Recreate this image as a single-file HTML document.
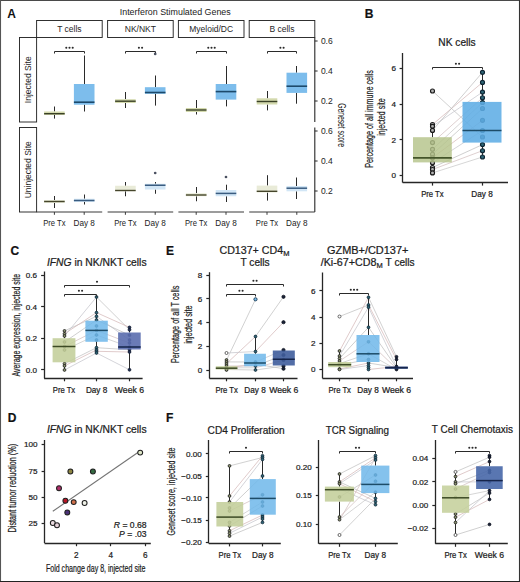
<!DOCTYPE html><html><head><meta charset="utf-8"><style>html,body{margin:0;padding:0;background:#fff;}svg{display:block;font-family:"Liberation Sans",sans-serif;}text{stroke:#1c1c1c;stroke-width:0.22px;}.pa text{stroke:none;}</style></head><body>
<svg width="520" height="582" viewBox="0 0 520 582">
<rect x="0" y="0" width="520" height="582" fill="#fff" stroke="none" stroke-width="1"/>
<g class="pa">
<text x="7.2" y="17.6" font-size="12" text-anchor="start" font-weight="bold" fill="#111">A</text>
<text x="175.25" y="15.4" font-size="8.9" text-anchor="middle" fill="#222" textLength="111" lengthAdjust="spacingAndGlyphs">Interferon Stimulated Genes</text>
<rect x="36.6" y="20.5" width="65.6" height="17" fill="#fff" stroke="#262626" stroke-width="0.95"/>
<text x="69.4" y="32.1" font-size="8.5" text-anchor="middle" fill="#262626">T cells</text>
<rect x="107.6" y="20.5" width="65.6" height="17" fill="#fff" stroke="#262626" stroke-width="0.95"/>
<text x="140.39999999999998" y="32.1" font-size="8.5" text-anchor="middle" fill="#262626">NK/NKT</text>
<rect x="178.4" y="20.5" width="65.6" height="17" fill="#fff" stroke="#262626" stroke-width="0.95"/>
<text x="211.2" y="32.1" font-size="8.5" text-anchor="middle" fill="#262626">Myeloid/DC</text>
<rect x="249.2" y="20.5" width="65.6" height="17" fill="#fff" stroke="#262626" stroke-width="0.95"/>
<text x="282.0" y="32.1" font-size="8.5" text-anchor="middle" fill="#262626">B cells</text>
<rect x="19.5" y="37.5" width="17.1" height="84.5" fill="#fff" stroke="#262626" stroke-width="0.95"/>
<text x="31.2" y="79.75" font-size="8.5" text-anchor="middle" fill="#262626" transform="rotate(-90 31.2 79.75)">Injected Site</text>
<rect x="19.5" y="127.5" width="17.1" height="84.5" fill="#fff" stroke="#262626" stroke-width="0.95"/>
<text x="31.2" y="169.75" font-size="8.5" text-anchor="middle" fill="#262626" transform="rotate(-90 31.2 169.75)">Uninjected Site</text>
<line x1="314.8" y1="37.5" x2="314.8" y2="122" stroke="#262626" stroke-width="1.1"/>
<line x1="314.8" y1="41" x2="317.6" y2="41" stroke="#262626" stroke-width="1"/>
<text x="320.9" y="43.9" font-size="8.5" text-anchor="start" fill="#1c1c1c">0.6</text>
<line x1="314.8" y1="71" x2="317.6" y2="71" stroke="#262626" stroke-width="1"/>
<text x="320.9" y="73.9" font-size="8.5" text-anchor="start" fill="#1c1c1c">0.4</text>
<line x1="314.8" y1="101" x2="317.6" y2="101" stroke="#262626" stroke-width="1"/>
<text x="320.9" y="103.9" font-size="8.5" text-anchor="start" fill="#1c1c1c">0.2</text>
<line x1="314.8" y1="127.5" x2="314.8" y2="212" stroke="#262626" stroke-width="1.1"/>
<line x1="314.8" y1="131" x2="317.6" y2="131" stroke="#262626" stroke-width="1"/>
<text x="320.9" y="133.9" font-size="8.5" text-anchor="start" fill="#1c1c1c">0.6</text>
<line x1="314.8" y1="161" x2="317.6" y2="161" stroke="#262626" stroke-width="1"/>
<text x="320.9" y="163.9" font-size="8.5" text-anchor="start" fill="#1c1c1c">0.4</text>
<line x1="314.8" y1="191" x2="317.6" y2="191" stroke="#262626" stroke-width="1"/>
<text x="320.9" y="193.9" font-size="8.5" text-anchor="start" fill="#1c1c1c">0.2</text>
<text x="338.4" y="125.1" font-size="10" text-anchor="middle" fill="#1c1c1c" transform="rotate(90 338.4 125.1)" textLength="43.9" lengthAdjust="spacingAndGlyphs">Geneset score</text>
<line x1="54.5" y1="106.5" x2="54.5" y2="111.5" stroke="#2a2a2a" stroke-width="1"/>
<line x1="54.5" y1="115" x2="54.5" y2="118.6" stroke="#2a2a2a" stroke-width="1"/>
<rect x="44.10000000000001" y="111.5" width="20.6" height="3.5" fill="#d3d9ad" stroke="none" stroke-width="1" fill-opacity="1"/>
<line x1="44.10000000000001" y1="113.7" x2="64.7" y2="113.7" stroke="#3a4127" stroke-width="1.4"/>
<line x1="84.5" y1="55.5" x2="84.5" y2="84" stroke="#2a2a2a" stroke-width="1"/>
<line x1="84.5" y1="104.7" x2="84.5" y2="111.5" stroke="#2a2a2a" stroke-width="1"/>
<rect x="73.9" y="84" width="20.6" height="20.700000000000003" fill="#7dbdec" stroke="none" stroke-width="1" fill-opacity="1"/>
<line x1="73.9" y1="102.2" x2="94.5" y2="102.2" stroke="#1d4a6c" stroke-width="1.6"/>
<path d="M54.5 53.5 V51.5 H84.5 V53.5" fill="none" stroke="#2a2a2a" stroke-width="1"/>
<circle cx="66.30" cy="47.80" r="1.05" fill="#2a2a2a"/>
<circle cx="69.50" cy="47.80" r="1.05" fill="#2a2a2a"/>
<circle cx="72.70" cy="47.80" r="1.05" fill="#2a2a2a"/>
<line x1="54.5" y1="196" x2="54.5" y2="200" stroke="#2a2a2a" stroke-width="1"/>
<line x1="54.5" y1="203" x2="54.5" y2="208" stroke="#2a2a2a" stroke-width="1"/>
<rect x="44.10000000000001" y="200" width="20.6" height="3" fill="#e9ebd8" stroke="none" stroke-width="1" fill-opacity="1"/>
<line x1="44.10000000000001" y1="201.5" x2="64.7" y2="201.5" stroke="#45452c" stroke-width="1.4"/>
<line x1="84.5" y1="194.5" x2="84.5" y2="198.75" stroke="#2a2a2a" stroke-width="1"/>
<line x1="84.5" y1="202" x2="84.5" y2="204.5" stroke="#2a2a2a" stroke-width="1"/>
<rect x="73.9" y="198.75" width="20.6" height="3.25" fill="#d2e6f6" stroke="none" stroke-width="1" fill-opacity="1"/>
<line x1="73.9" y1="200.5" x2="94.5" y2="200.5" stroke="#3a5c80" stroke-width="1.5"/>
<line x1="36.6" y1="212" x2="102.19999999999999" y2="212" stroke="#3a3a3a" stroke-width="1.2"/>
<line x1="54.400000000000006" y1="212" x2="54.400000000000006" y2="214.8" stroke="#3a3a3a" stroke-width="1"/>
<text x="54.400000000000006" y="225.6" font-size="8.2" text-anchor="middle" fill="#1c1c1c" textLength="22.4" lengthAdjust="spacingAndGlyphs">Pre Tx</text>
<line x1="84.2" y1="212" x2="84.2" y2="214.8" stroke="#3a3a3a" stroke-width="1"/>
<text x="84.2" y="225.6" font-size="8.2" text-anchor="middle" fill="#1c1c1c" textLength="21.4" lengthAdjust="spacingAndGlyphs">Day 8</text>
<line x1="125.5" y1="92" x2="125.5" y2="99.2" stroke="#2a2a2a" stroke-width="1"/>
<line x1="125.5" y1="103" x2="125.5" y2="108" stroke="#2a2a2a" stroke-width="1"/>
<rect x="115.1" y="99.2" width="20.6" height="3.799999999999997" fill="#d3d9ad" stroke="none" stroke-width="1" fill-opacity="1"/>
<line x1="115.1" y1="101.2" x2="135.7" y2="101.2" stroke="#3a4127" stroke-width="1.4"/>
<line x1="155.5" y1="75.5" x2="155.5" y2="87.2" stroke="#2a2a2a" stroke-width="1"/>
<line x1="155.5" y1="93.8" x2="155.5" y2="105.6" stroke="#2a2a2a" stroke-width="1"/>
<rect x="144.89999999999998" y="87.2" width="20.6" height="6.599999999999994" fill="#7dbdec" stroke="none" stroke-width="1" fill-opacity="1"/>
<line x1="144.89999999999998" y1="92.5" x2="165.5" y2="92.5" stroke="#1d4a6c" stroke-width="1.6"/>
<path d="M125.5 53.5 V51.5 H155.5 V53.5" fill="none" stroke="#2a2a2a" stroke-width="1"/>
<circle cx="138.90" cy="47.80" r="1.05" fill="#2a2a2a"/>
<circle cx="142.10" cy="47.80" r="1.05" fill="#2a2a2a"/>
<circle cx="155.2" cy="53.9" r="1.35" fill="#4a5060" stroke="none" stroke-width="0"/>
<line x1="125.5" y1="182" x2="125.5" y2="185.75" stroke="#2a2a2a" stroke-width="1"/>
<line x1="125.5" y1="191.25" x2="125.5" y2="196.25" stroke="#2a2a2a" stroke-width="1"/>
<rect x="115.1" y="185.75" width="20.6" height="5.5" fill="#e9ebd8" stroke="none" stroke-width="1" fill-opacity="1"/>
<line x1="115.1" y1="190.5" x2="135.7" y2="190.5" stroke="#45452c" stroke-width="1.4"/>
<line x1="155.5" y1="182" x2="155.5" y2="183.75" stroke="#2a2a2a" stroke-width="1"/>
<line x1="155.5" y1="189.5" x2="155.5" y2="193.75" stroke="#2a2a2a" stroke-width="1"/>
<rect x="144.89999999999998" y="183.75" width="20.6" height="5.75" fill="#d2e6f6" stroke="none" stroke-width="1" fill-opacity="1"/>
<line x1="144.89999999999998" y1="185.25" x2="165.5" y2="185.25" stroke="#3a5c80" stroke-width="1.5"/>
<circle cx="155.2" cy="173" r="1.35" fill="#4a5060" stroke="none" stroke-width="0"/>
<line x1="107.6" y1="212" x2="173.2" y2="212" stroke="#3a3a3a" stroke-width="1.2"/>
<line x1="125.39999999999999" y1="212" x2="125.39999999999999" y2="214.8" stroke="#3a3a3a" stroke-width="1"/>
<text x="125.39999999999999" y="225.6" font-size="8.2" text-anchor="middle" fill="#1c1c1c" textLength="22.4" lengthAdjust="spacingAndGlyphs">Pre Tx</text>
<line x1="155.2" y1="212" x2="155.2" y2="214.8" stroke="#3a3a3a" stroke-width="1"/>
<text x="155.2" y="225.6" font-size="8.2" text-anchor="middle" fill="#1c1c1c" textLength="21.4" lengthAdjust="spacingAndGlyphs">Day 8</text>
<line x1="196.5" y1="100" x2="196.5" y2="108" stroke="#2a2a2a" stroke-width="1"/>
<line x1="196.5" y1="112" x2="196.5" y2="114.5" stroke="#2a2a2a" stroke-width="1"/>
<rect x="185.9" y="108" width="20.6" height="4" fill="#d3d9ad" stroke="none" stroke-width="1" fill-opacity="1"/>
<line x1="185.9" y1="110" x2="206.50000000000003" y2="110" stroke="#3a4127" stroke-width="1.4"/>
<line x1="226.5" y1="66" x2="226.5" y2="84" stroke="#2a2a2a" stroke-width="1"/>
<line x1="226.5" y1="99.6" x2="226.5" y2="106.4" stroke="#2a2a2a" stroke-width="1"/>
<rect x="215.7" y="84" width="20.6" height="15.599999999999994" fill="#7dbdec" stroke="none" stroke-width="1" fill-opacity="1"/>
<line x1="215.7" y1="91.6" x2="236.3" y2="91.6" stroke="#1d4a6c" stroke-width="1.6"/>
<path d="M196.5 53.5 V51.5 H226.5 V53.5" fill="none" stroke="#2a2a2a" stroke-width="1"/>
<circle cx="208.30" cy="47.80" r="1.05" fill="#2a2a2a"/>
<circle cx="211.50" cy="47.80" r="1.05" fill="#2a2a2a"/>
<circle cx="214.70" cy="47.80" r="1.05" fill="#2a2a2a"/>
<line x1="196.5" y1="187" x2="196.5" y2="193.25" stroke="#2a2a2a" stroke-width="1"/>
<line x1="196.5" y1="196.25" x2="196.5" y2="201.25" stroke="#2a2a2a" stroke-width="1"/>
<rect x="185.9" y="193.25" width="20.6" height="3.0" fill="#e9ebd8" stroke="none" stroke-width="1" fill-opacity="1"/>
<line x1="185.9" y1="195" x2="206.50000000000003" y2="195" stroke="#45452c" stroke-width="1.4"/>
<line x1="226.5" y1="184.7" x2="226.5" y2="190" stroke="#2a2a2a" stroke-width="1"/>
<line x1="226.5" y1="196.25" x2="226.5" y2="202" stroke="#2a2a2a" stroke-width="1"/>
<rect x="215.7" y="190" width="20.6" height="6.25" fill="#d2e6f6" stroke="none" stroke-width="1" fill-opacity="1"/>
<line x1="215.7" y1="193.4" x2="236.3" y2="193.4" stroke="#3a5c80" stroke-width="1.5"/>
<circle cx="226.0" cy="177" r="1.35" fill="#4a5060" stroke="none" stroke-width="0"/>
<line x1="178.4" y1="212" x2="244.0" y2="212" stroke="#3a3a3a" stroke-width="1.2"/>
<line x1="196.20000000000002" y1="212" x2="196.20000000000002" y2="214.8" stroke="#3a3a3a" stroke-width="1"/>
<text x="196.20000000000002" y="225.6" font-size="8.2" text-anchor="middle" fill="#1c1c1c" textLength="22.4" lengthAdjust="spacingAndGlyphs">Pre Tx</text>
<line x1="226.0" y1="212" x2="226.0" y2="214.8" stroke="#3a3a3a" stroke-width="1"/>
<text x="226.0" y="225.6" font-size="8.2" text-anchor="middle" fill="#1c1c1c" textLength="21.4" lengthAdjust="spacingAndGlyphs">Day 8</text>
<line x1="267.5" y1="91" x2="267.5" y2="98.3" stroke="#2a2a2a" stroke-width="1"/>
<line x1="267.5" y1="104.5" x2="267.5" y2="110.4" stroke="#2a2a2a" stroke-width="1"/>
<rect x="256.7" y="98.3" width="20.6" height="6.200000000000003" fill="#d3d9ad" stroke="none" stroke-width="1" fill-opacity="1"/>
<line x1="256.7" y1="101.5" x2="277.3" y2="101.5" stroke="#3a4127" stroke-width="1.4"/>
<line x1="296.5" y1="66" x2="296.5" y2="72.7" stroke="#2a2a2a" stroke-width="1"/>
<line x1="296.5" y1="92.9" x2="296.5" y2="103.7" stroke="#2a2a2a" stroke-width="1"/>
<rect x="286.5" y="72.7" width="20.6" height="20.200000000000003" fill="#7dbdec" stroke="none" stroke-width="1" fill-opacity="1"/>
<line x1="286.5" y1="86.2" x2="307.1" y2="86.2" stroke="#1d4a6c" stroke-width="1.6"/>
<path d="M267.5 53.5 V51.5 H296.5 V53.5" fill="none" stroke="#2a2a2a" stroke-width="1"/>
<circle cx="280.40" cy="47.80" r="1.05" fill="#2a2a2a"/>
<circle cx="283.60" cy="47.80" r="1.05" fill="#2a2a2a"/>
<line x1="267.5" y1="175.2" x2="267.5" y2="185.6" stroke="#2a2a2a" stroke-width="1"/>
<line x1="267.5" y1="192.5" x2="267.5" y2="200.6" stroke="#2a2a2a" stroke-width="1"/>
<rect x="256.7" y="185.6" width="20.6" height="6.900000000000006" fill="#e9ebd8" stroke="none" stroke-width="1" fill-opacity="1"/>
<line x1="256.7" y1="191.3" x2="277.3" y2="191.3" stroke="#45452c" stroke-width="1.4"/>
<line x1="296.5" y1="177.5" x2="296.5" y2="186" stroke="#2a2a2a" stroke-width="1"/>
<line x1="296.5" y1="191.3" x2="296.5" y2="199" stroke="#2a2a2a" stroke-width="1"/>
<rect x="286.5" y="186" width="20.6" height="5.300000000000011" fill="#d2e6f6" stroke="none" stroke-width="1" fill-opacity="1"/>
<line x1="286.5" y1="188.2" x2="307.1" y2="188.2" stroke="#3a5c80" stroke-width="1.5"/>
<line x1="249.2" y1="212" x2="314.79999999999995" y2="212" stroke="#3a3a3a" stroke-width="1.2"/>
<line x1="267.0" y1="212" x2="267.0" y2="214.8" stroke="#3a3a3a" stroke-width="1"/>
<text x="267.0" y="225.6" font-size="8.2" text-anchor="middle" fill="#1c1c1c" textLength="22.4" lengthAdjust="spacingAndGlyphs">Pre Tx</text>
<line x1="296.8" y1="212" x2="296.8" y2="214.8" stroke="#3a3a3a" stroke-width="1"/>
<text x="296.8" y="225.6" font-size="8.2" text-anchor="middle" fill="#1c1c1c" textLength="21.4" lengthAdjust="spacingAndGlyphs">Day 8</text>
</g>
<text x="364.8" y="17.8" font-size="12" text-anchor="start" font-weight="bold" fill="#111">B</text>
<text x="457" y="45.9" font-size="10.1" text-anchor="middle" fill="#222" textLength="37.4" lengthAdjust="spacingAndGlyphs">NK cells</text>
<line x1="402.5" y1="53" x2="402.5" y2="182.6" stroke="#262626" stroke-width="1.3"/>
<line x1="399.6" y1="68.5" x2="402.6" y2="68.5" stroke="#262626" stroke-width="1.2"/>
<text x="396.1" y="71.30000000000001" font-size="8.1" text-anchor="end" fill="#1c1c1c">6</text>
<line x1="399.6" y1="104.5" x2="402.6" y2="104.5" stroke="#262626" stroke-width="1.2"/>
<text x="396.1" y="107.10000000000001" font-size="8.1" text-anchor="end" fill="#1c1c1c">4</text>
<line x1="399.6" y1="139.5" x2="402.6" y2="139.5" stroke="#262626" stroke-width="1.2"/>
<text x="396.1" y="142.8" font-size="8.1" text-anchor="end" fill="#1c1c1c">2</text>
<line x1="399.6" y1="175.5" x2="402.6" y2="175.5" stroke="#262626" stroke-width="1.2"/>
<text x="396.1" y="178.4" font-size="8.1" text-anchor="end" fill="#1c1c1c">0</text>
<line x1="402.6" y1="182.5" x2="508" y2="182.5" stroke="#262626" stroke-width="1.3"/>
<line x1="432.5" y1="182.6" x2="432.5" y2="185.6" stroke="#262626" stroke-width="1.2"/>
<text x="432.4" y="197.4" font-size="8.2" text-anchor="middle" fill="#1c1c1c" textLength="22.4" lengthAdjust="spacingAndGlyphs">Pre Tx</text>
<line x1="482.5" y1="182.6" x2="482.5" y2="185.6" stroke="#262626" stroke-width="1.2"/>
<text x="482" y="197.4" font-size="8.2" text-anchor="middle" fill="#1c1c1c" textLength="21.4" lengthAdjust="spacingAndGlyphs">Day 8</text>
<text x="372.7" y="118.9" font-size="10" text-anchor="middle" fill="#262626" transform="rotate(-90 372.7 118.9)" textLength="97.5" lengthAdjust="spacingAndGlyphs">Percentage of all immune cells</text>
<text x="384.6" y="117" font-size="10" text-anchor="middle" fill="#262626" transform="rotate(-90 384.6 117)" textLength="37.5" lengthAdjust="spacingAndGlyphs">injected site</text>
<line x1="432.5" y1="91" x2="482.5" y2="137" stroke="#bdbdbd" stroke-width="0.7"/>
<line x1="432.5" y1="124.5" x2="482.5" y2="82.4" stroke="#d2b4b4" stroke-width="0.7"/>
<line x1="432.5" y1="126.3" x2="482.5" y2="92.1" stroke="#c2c2c8" stroke-width="0.7"/>
<line x1="432.5" y1="130.4" x2="482.5" y2="72.3" stroke="#bababa" stroke-width="0.7"/>
<line x1="432.5" y1="142.6" x2="482.5" y2="97.7" stroke="#d0bcbc" stroke-width="0.7"/>
<line x1="432.5" y1="149.3" x2="482.5" y2="102.5" stroke="#c4c4c4" stroke-width="0.7"/>
<line x1="432.5" y1="154.2" x2="482.5" y2="108.5" stroke="#bdbdbd" stroke-width="0.7"/>
<line x1="432.5" y1="157.8" x2="482.5" y2="120.3" stroke="#d2b4b4" stroke-width="0.7"/>
<line x1="432.5" y1="162.8" x2="482.5" y2="130.5" stroke="#c2c2c8" stroke-width="0.7"/>
<line x1="432.5" y1="167.5" x2="482.5" y2="144.6" stroke="#bababa" stroke-width="0.7"/>
<line x1="432.5" y1="169.5" x2="482.5" y2="150.7" stroke="#d0bcbc" stroke-width="0.7"/>
<line x1="432.5" y1="172.9" x2="482.5" y2="157" stroke="#c4c4c4" stroke-width="0.7"/>
<line x1="432.5" y1="124.5" x2="432.5" y2="137.2" stroke="#2a2a2a" stroke-width="1"/>
<line x1="432.5" y1="162.4" x2="432.5" y2="172.9" stroke="#2a2a2a" stroke-width="1"/>
<line x1="482.5" y1="72.3" x2="482.5" y2="101.9" stroke="#2a2a2a" stroke-width="1"/>
<line x1="482.5" y1="142.6" x2="482.5" y2="157" stroke="#2a2a2a" stroke-width="1"/>
<circle cx="432.5" cy="91" r="2.0" fill="#b4b4b4" stroke="#1a1a1a" stroke-width="1.15"/>
<circle cx="432.5" cy="124.5" r="2.0" fill="#b4b4b4" stroke="#1a1a1a" stroke-width="1.15"/>
<circle cx="432.5" cy="126.3" r="2.0" fill="#b4b4b4" stroke="#1a1a1a" stroke-width="1.15"/>
<circle cx="432.5" cy="130.4" r="2.0" fill="#b4b4b4" stroke="#1a1a1a" stroke-width="1.15"/>
<circle cx="432.5" cy="142.6" r="2.0" fill="#b4b4b4" stroke="#1a1a1a" stroke-width="1.15"/>
<circle cx="432.5" cy="149.3" r="2.0" fill="#b4b4b4" stroke="#1a1a1a" stroke-width="1.15"/>
<circle cx="432.5" cy="154.2" r="2.0" fill="#b4b4b4" stroke="#1a1a1a" stroke-width="1.15"/>
<circle cx="432.5" cy="157.8" r="2.0" fill="#b4b4b4" stroke="#1a1a1a" stroke-width="1.15"/>
<circle cx="432.5" cy="162.8" r="2.0" fill="#b4b4b4" stroke="#1a1a1a" stroke-width="1.15"/>
<circle cx="432.5" cy="167.5" r="2.0" fill="#b4b4b4" stroke="#1a1a1a" stroke-width="1.15"/>
<circle cx="432.5" cy="169.5" r="2.0" fill="#b4b4b4" stroke="#1a1a1a" stroke-width="1.15"/>
<circle cx="432.5" cy="172.9" r="2.0" fill="#b4b4b4" stroke="#1a1a1a" stroke-width="1.15"/>
<circle cx="482.5" cy="72.3" r="2.0" fill="#2f6677" stroke="#0f2533" stroke-width="1.15"/>
<circle cx="482.5" cy="82.4" r="2.0" fill="#2f6677" stroke="#0f2533" stroke-width="1.15"/>
<circle cx="482.5" cy="92.1" r="2.0" fill="#2f6677" stroke="#0f2533" stroke-width="1.15"/>
<circle cx="482.5" cy="97.7" r="2.0" fill="#2f6677" stroke="#0f2533" stroke-width="1.15"/>
<circle cx="482.5" cy="102.5" r="2.0" fill="#2f6677" stroke="#0f2533" stroke-width="1.15"/>
<circle cx="482.5" cy="108.5" r="2.0" fill="#2f6677" stroke="#0f2533" stroke-width="1.15"/>
<circle cx="482.5" cy="120.3" r="2.0" fill="#2f6677" stroke="#0f2533" stroke-width="1.15"/>
<circle cx="482.5" cy="130.5" r="2.0" fill="#2f6677" stroke="#0f2533" stroke-width="1.15"/>
<circle cx="482.5" cy="137" r="2.0" fill="#2f6677" stroke="#0f2533" stroke-width="1.15"/>
<circle cx="482.5" cy="144.6" r="2.0" fill="#2f6677" stroke="#0f2533" stroke-width="1.15"/>
<circle cx="482.5" cy="150.7" r="2.0" fill="#2f6677" stroke="#0f2533" stroke-width="1.15"/>
<circle cx="482.5" cy="157" r="2.0" fill="#2f6677" stroke="#0f2533" stroke-width="1.15"/>
<rect x="413.0" y="137.2" width="38.8" height="25.200000000000017" fill="#b4c38a" stroke="none" stroke-width="1" fill-opacity="0.82"/>
<line x1="413.0" y1="157.8" x2="451.79999999999995" y2="157.8" stroke="#44552a" stroke-width="1.7"/>
<rect x="462.5" y="101.9" width="39.0" height="40.69999999999999" fill="#5eade5" stroke="none" stroke-width="1" fill-opacity="0.88"/>
<line x1="462.5" y1="130.5" x2="501.5" y2="130.5" stroke="#1d4c68" stroke-width="1.7"/>
<path d="M432.5 69.5 V67.5 H482.5 V69.5" fill="none" stroke="#2a2a2a" stroke-width="1"/>
<circle cx="455.90" cy="63.80" r="1.05" fill="#2a2a2a"/>
<circle cx="459.10" cy="63.80" r="1.05" fill="#2a2a2a"/>
<text x="10.4" y="255.4" font-size="12" text-anchor="start" font-weight="bold" fill="#111">C</text>
<text x="96.75" y="265.8" font-size="10.3" text-anchor="middle" fill="#222" textLength="99.6" lengthAdjust="spacingAndGlyphs"><tspan font-style="italic">IFNG</tspan> in NK/NKT cells</text>
<line x1="44.5" y1="271.5" x2="44.5" y2="378.3" stroke="#262626" stroke-width="1.3"/>
<line x1="41.1" y1="275.5" x2="44.1" y2="275.5" stroke="#262626" stroke-width="1.2"/>
<text x="37.1" y="277.9" font-size="8.1" text-anchor="end" fill="#1c1c1c">0.6</text>
<line x1="41.1" y1="306.5" x2="44.1" y2="306.5" stroke="#262626" stroke-width="1.2"/>
<text x="37.1" y="309.5" font-size="8.1" text-anchor="end" fill="#1c1c1c">0.4</text>
<line x1="41.1" y1="338.5" x2="44.1" y2="338.5" stroke="#262626" stroke-width="1.2"/>
<text x="37.1" y="341.09999999999997" font-size="8.1" text-anchor="end" fill="#1c1c1c">0.2</text>
<line x1="41.1" y1="369.5" x2="44.1" y2="369.5" stroke="#262626" stroke-width="1.2"/>
<text x="37.1" y="372.7" font-size="8.1" text-anchor="end" fill="#1c1c1c">0.0</text>
<line x1="44.1" y1="378.5" x2="142.6" y2="378.5" stroke="#262626" stroke-width="1.3"/>
<line x1="64.5" y1="378.3" x2="64.5" y2="381.3" stroke="#262626" stroke-width="1.2"/>
<text x="64" y="392.7" font-size="8.2" text-anchor="middle" fill="#1c1c1c" textLength="22.4" lengthAdjust="spacingAndGlyphs">Pre Tx</text>
<line x1="96.5" y1="378.3" x2="96.5" y2="381.3" stroke="#262626" stroke-width="1.2"/>
<text x="96.6" y="392.7" font-size="8.2" text-anchor="middle" fill="#1c1c1c" textLength="21.4" lengthAdjust="spacingAndGlyphs">Day 8</text>
<line x1="129.5" y1="378.3" x2="129.5" y2="381.3" stroke="#262626" stroke-width="1.2"/>
<text x="129.4" y="392.7" font-size="8.2" text-anchor="middle" fill="#1c1c1c" textLength="29.2" lengthAdjust="spacingAndGlyphs">Week 6</text>
<text x="19.7" y="325.2" font-size="10" text-anchor="middle" fill="#262626" transform="rotate(-90 19.7 325.2)" textLength="102.8" lengthAdjust="spacingAndGlyphs">Average expression, injected site</text>
<line x1="64.5" y1="330.9" x2="96.5" y2="316.3" stroke="#bdbdbd" stroke-width="0.7"/>
<line x1="64.5" y1="333.8" x2="96.5" y2="312.6" stroke="#d2b4b4" stroke-width="0.7"/>
<line x1="64.5" y1="336" x2="96.5" y2="297" stroke="#c2c2c8" stroke-width="0.7"/>
<line x1="64.5" y1="342" x2="96.5" y2="320" stroke="#bababa" stroke-width="0.7"/>
<line x1="64.5" y1="346.5" x2="96.5" y2="330.4" stroke="#d0bcbc" stroke-width="0.7"/>
<line x1="64.5" y1="350" x2="96.5" y2="335" stroke="#c4c4c4" stroke-width="0.7"/>
<line x1="64.5" y1="363.7" x2="96.5" y2="347.7" stroke="#bdbdbd" stroke-width="0.7"/>
<line x1="64.5" y1="365.9" x2="96.5" y2="349.9" stroke="#d2b4b4" stroke-width="0.7"/>
<line x1="64.5" y1="370" x2="96.5" y2="353" stroke="#c2c2c8" stroke-width="0.7"/>
<line x1="96.5" y1="297" x2="129.5" y2="329.8" stroke="#bdbdbd" stroke-width="0.7"/>
<line x1="96.5" y1="312.6" x2="129.5" y2="327.4" stroke="#d2b4b4" stroke-width="0.7"/>
<line x1="96.5" y1="316.3" x2="129.5" y2="340" stroke="#c2c2c8" stroke-width="0.7"/>
<line x1="96.5" y1="320" x2="129.5" y2="335.2" stroke="#bababa" stroke-width="0.7"/>
<line x1="96.5" y1="330.4" x2="129.5" y2="343" stroke="#d0bcbc" stroke-width="0.7"/>
<line x1="96.5" y1="335" x2="129.5" y2="347" stroke="#c4c4c4" stroke-width="0.7"/>
<line x1="96.5" y1="347.7" x2="129.5" y2="349.75" stroke="#bdbdbd" stroke-width="0.7"/>
<line x1="96.5" y1="351.3" x2="129.5" y2="352" stroke="#d2b4b4" stroke-width="0.7"/>
<line x1="96.5" y1="353" x2="129.5" y2="369.8" stroke="#c2c2c8" stroke-width="0.7"/>
<line x1="64.5" y1="330.9" x2="64.5" y2="338.2" stroke="#2a2a2a" stroke-width="1"/>
<line x1="64.5" y1="362.3" x2="64.5" y2="370" stroke="#2a2a2a" stroke-width="1"/>
<line x1="96.5" y1="297" x2="96.5" y2="320.7" stroke="#2a2a2a" stroke-width="1"/>
<line x1="96.5" y1="341.8" x2="96.5" y2="353" stroke="#2a2a2a" stroke-width="1"/>
<line x1="129.5" y1="327.4" x2="129.5" y2="332.5" stroke="#2a2a2a" stroke-width="1"/>
<line x1="129.5" y1="349.5" x2="129.5" y2="369.8" stroke="#2a2a2a" stroke-width="1"/>
<circle cx="64.5" cy="330.9" r="1.4" fill="#8c9470" stroke="#1a1a1a" stroke-width="0.8"/>
<circle cx="64.5" cy="333.8" r="1.4" fill="#8c9470" stroke="#1a1a1a" stroke-width="0.8"/>
<circle cx="64.5" cy="336" r="1.4" fill="#8c9470" stroke="#1a1a1a" stroke-width="0.8"/>
<circle cx="64.5" cy="342" r="1.4" fill="#8c9470" stroke="#1a1a1a" stroke-width="0.8"/>
<circle cx="64.5" cy="346.5" r="1.4" fill="#8c9470" stroke="#1a1a1a" stroke-width="0.8"/>
<circle cx="64.5" cy="350" r="1.4" fill="#8c9470" stroke="#1a1a1a" stroke-width="0.8"/>
<circle cx="64.5" cy="363.7" r="1.4" fill="#8c9470" stroke="#1a1a1a" stroke-width="0.8"/>
<circle cx="64.5" cy="365.9" r="1.4" fill="#8c9470" stroke="#1a1a1a" stroke-width="0.8"/>
<circle cx="64.5" cy="370" r="1.4" fill="#8c9470" stroke="#1a1a1a" stroke-width="0.8"/>
<circle cx="96.5" cy="297" r="1.4" fill="#2f6677" stroke="#0f2533" stroke-width="0.8"/>
<circle cx="96.5" cy="312.6" r="1.4" fill="#2f6677" stroke="#0f2533" stroke-width="0.8"/>
<circle cx="96.5" cy="316.3" r="1.4" fill="#2f6677" stroke="#0f2533" stroke-width="0.8"/>
<circle cx="96.5" cy="320" r="1.4" fill="#2f6677" stroke="#0f2533" stroke-width="0.8"/>
<circle cx="96.5" cy="326" r="1.4" fill="#2f6677" stroke="#0f2533" stroke-width="0.8"/>
<circle cx="96.5" cy="330.4" r="1.4" fill="#2f6677" stroke="#0f2533" stroke-width="0.8"/>
<circle cx="96.5" cy="335" r="1.4" fill="#2f6677" stroke="#0f2533" stroke-width="0.8"/>
<circle cx="96.5" cy="340" r="1.4" fill="#2f6677" stroke="#0f2533" stroke-width="0.8"/>
<circle cx="96.5" cy="347.7" r="1.4" fill="#2f6677" stroke="#0f2533" stroke-width="0.8"/>
<circle cx="96.5" cy="349.9" r="1.4" fill="#2f6677" stroke="#0f2533" stroke-width="0.8"/>
<circle cx="96.5" cy="351.3" r="1.4" fill="#2f6677" stroke="#0f2533" stroke-width="0.8"/>
<circle cx="96.5" cy="353" r="1.4" fill="#2f6677" stroke="#0f2533" stroke-width="0.8"/>
<circle cx="129.5" cy="327.4" r="1.4" fill="#223055" stroke="#0d162c" stroke-width="0.8"/>
<circle cx="129.5" cy="329.8" r="1.4" fill="#223055" stroke="#0d162c" stroke-width="0.8"/>
<circle cx="129.5" cy="335.2" r="1.4" fill="#223055" stroke="#0d162c" stroke-width="0.8"/>
<circle cx="129.5" cy="340" r="1.4" fill="#223055" stroke="#0d162c" stroke-width="0.8"/>
<circle cx="129.5" cy="343" r="1.4" fill="#223055" stroke="#0d162c" stroke-width="0.8"/>
<circle cx="129.5" cy="347" r="1.4" fill="#223055" stroke="#0d162c" stroke-width="0.8"/>
<circle cx="129.5" cy="349.75" r="1.4" fill="#223055" stroke="#0d162c" stroke-width="0.8"/>
<circle cx="129.5" cy="352" r="1.4" fill="#223055" stroke="#0d162c" stroke-width="0.8"/>
<circle cx="129.5" cy="369.8" r="1.4" fill="#223055" stroke="#0d162c" stroke-width="0.8"/>
<rect x="52.6" y="338.2" width="22.8" height="24.100000000000023" fill="#c2ce99" stroke="none" stroke-width="1" fill-opacity="0.87"/>
<line x1="52.6" y1="346.5" x2="75.4" y2="346.5" stroke="#3c4a24" stroke-width="1.5"/>
<rect x="85.39999999999999" y="320.7" width="22.4" height="21.100000000000023" fill="#6fb7ea" stroke="none" stroke-width="1" fill-opacity="0.85"/>
<line x1="85.39999999999999" y1="330.4" x2="107.8" y2="330.4" stroke="#1d4c68" stroke-width="1.5"/>
<rect x="118.10000000000001" y="332.5" width="22.6" height="17.0" fill="#5a6dae" stroke="none" stroke-width="1" fill-opacity="0.9"/>
<line x1="118.10000000000001" y1="347" x2="140.70000000000002" y2="347" stroke="#15244a" stroke-width="1.5"/>
<path d="M64.5 296.5 V294.5 H96.5 V296.5" fill="none" stroke="#2a2a2a" stroke-width="1"/>
<circle cx="78.90" cy="290.80" r="1.05" fill="#2a2a2a"/>
<circle cx="82.10" cy="290.80" r="1.05" fill="#2a2a2a"/>
<path d="M64.5 287.5 V285.5 H129.5 V287.5" fill="none" stroke="#2a2a2a" stroke-width="1"/>
<circle cx="97.00" cy="281.80" r="1.05" fill="#2a2a2a"/>
<text x="166" y="255.3" font-size="12" text-anchor="start" font-weight="bold" fill="#111">E</text>
<text x="251.3" y="253.5" font-size="10" text-anchor="middle" fill="#222" textLength="63.6" lengthAdjust="spacingAndGlyphs">CD137+ CD4</text>
<text x="283.3" y="255.9" font-size="7.5" text-anchor="start" fill="#222">M</text>
<text x="255.1" y="265.7" font-size="10" text-anchor="middle" fill="#222" textLength="29.2" lengthAdjust="spacingAndGlyphs">T cells</text>
<line x1="209.5" y1="272.2" x2="209.5" y2="378.3" stroke="#262626" stroke-width="1.3"/>
<line x1="206.3" y1="275.5" x2="209.3" y2="275.5" stroke="#262626" stroke-width="1.2"/>
<text x="202.3" y="278.09999999999997" font-size="8.1" text-anchor="end" fill="#1c1c1c">8</text>
<line x1="206.3" y1="298.5" x2="209.3" y2="298.5" stroke="#262626" stroke-width="1.2"/>
<text x="202.3" y="301.7" font-size="8.1" text-anchor="end" fill="#1c1c1c">6</text>
<line x1="206.3" y1="322.5" x2="209.3" y2="322.5" stroke="#262626" stroke-width="1.2"/>
<text x="202.3" y="325.4" font-size="8.1" text-anchor="end" fill="#1c1c1c">4</text>
<line x1="206.3" y1="346.5" x2="209.3" y2="346.5" stroke="#262626" stroke-width="1.2"/>
<text x="202.3" y="349.09999999999997" font-size="8.1" text-anchor="end" fill="#1c1c1c">2</text>
<line x1="206.3" y1="370.5" x2="209.3" y2="370.5" stroke="#262626" stroke-width="1.2"/>
<text x="202.3" y="372.9" font-size="8.1" text-anchor="end" fill="#1c1c1c">0</text>
<line x1="209.3" y1="378.5" x2="297.5" y2="378.5" stroke="#262626" stroke-width="1.3"/>
<line x1="226.5" y1="378.3" x2="226.5" y2="381.3" stroke="#262626" stroke-width="1.2"/>
<text x="226.6" y="392.7" font-size="8.2" text-anchor="middle" fill="#1c1c1c" textLength="22.4" lengthAdjust="spacingAndGlyphs">Pre Tx</text>
<line x1="255.5" y1="378.3" x2="255.5" y2="381.3" stroke="#262626" stroke-width="1.2"/>
<text x="255" y="392.7" font-size="8.2" text-anchor="middle" fill="#1c1c1c" textLength="21.4" lengthAdjust="spacingAndGlyphs">Day 8</text>
<line x1="283.5" y1="378.3" x2="283.5" y2="381.3" stroke="#262626" stroke-width="1.2"/>
<text x="283.8" y="392.7" font-size="8.2" text-anchor="middle" fill="#1c1c1c" textLength="29.2" lengthAdjust="spacingAndGlyphs">Week 6</text>
<text x="178.8" y="324.4" font-size="10" text-anchor="middle" fill="#262626" transform="rotate(-90 178.8 324.4)" textLength="77.4" lengthAdjust="spacingAndGlyphs">Percentage of all T cells</text>
<text x="191.6" y="324.65" font-size="10" text-anchor="middle" fill="#262626" transform="rotate(-90 191.6 324.65)" textLength="38.4" lengthAdjust="spacingAndGlyphs">injected site</text>
<line x1="226.5" y1="360.2" x2="255.5" y2="299.3" stroke="#bdbdbd" stroke-width="0.7"/>
<line x1="226.5" y1="363.6" x2="255.5" y2="336.5" stroke="#d2b4b4" stroke-width="0.7"/>
<line x1="226.5" y1="353" x2="255.5" y2="351.5" stroke="#c2c2c8" stroke-width="0.7"/>
<line x1="226.5" y1="361.9" x2="255.5" y2="362" stroke="#bababa" stroke-width="0.7"/>
<line x1="226.5" y1="366" x2="255.5" y2="366" stroke="#d0bcbc" stroke-width="0.7"/>
<line x1="226.5" y1="367.8" x2="255.5" y2="367.8" stroke="#c4c4c4" stroke-width="0.7"/>
<line x1="226.5" y1="369.5" x2="255.5" y2="370" stroke="#bdbdbd" stroke-width="0.7"/>
<line x1="226.5" y1="368" x2="255.5" y2="364" stroke="#d2b4b4" stroke-width="0.7"/>
<line x1="255.5" y1="336.5" x2="283.5" y2="296.8" stroke="#bdbdbd" stroke-width="0.7"/>
<line x1="255.5" y1="351.5" x2="283.5" y2="322.2" stroke="#d2b4b4" stroke-width="0.7"/>
<line x1="255.5" y1="362" x2="283.5" y2="350" stroke="#c2c2c8" stroke-width="0.7"/>
<line x1="255.5" y1="366" x2="283.5" y2="355" stroke="#bababa" stroke-width="0.7"/>
<line x1="255.5" y1="367.8" x2="283.5" y2="360" stroke="#d0bcbc" stroke-width="0.7"/>
<line x1="255.5" y1="370" x2="283.5" y2="366" stroke="#c4c4c4" stroke-width="0.7"/>
<line x1="255.5" y1="364" x2="283.5" y2="368.75" stroke="#bdbdbd" stroke-width="0.7"/>
<line x1="255.5" y1="336.25" x2="255.5" y2="353.75" stroke="#2a2a2a" stroke-width="1"/>
<line x1="255.5" y1="366.25" x2="255.5" y2="370" stroke="#2a2a2a" stroke-width="1"/>
<line x1="283.5" y1="350.5" x2="283.5" y2="350.5" stroke="#2a2a2a" stroke-width="1"/>
<line x1="283.5" y1="365.5" x2="283.5" y2="368.75" stroke="#2a2a2a" stroke-width="1"/>
<circle cx="226.5" cy="360" r="1.4" fill="#8c9470" stroke="#1a1a1a" stroke-width="0.8"/>
<circle cx="226.5" cy="362" r="1.4" fill="#8c9470" stroke="#1a1a1a" stroke-width="0.8"/>
<circle cx="226.5" cy="364" r="1.4" fill="#8c9470" stroke="#1a1a1a" stroke-width="0.8"/>
<circle cx="226.5" cy="366" r="1.4" fill="#8c9470" stroke="#1a1a1a" stroke-width="0.8"/>
<circle cx="226.5" cy="368" r="1.4" fill="#8c9470" stroke="#1a1a1a" stroke-width="0.8"/>
<circle cx="226.5" cy="369.2" r="1.4" fill="#8c9470" stroke="#1a1a1a" stroke-width="0.8"/>
<circle cx="226.5" cy="370" r="1.4" fill="#8c9470" stroke="#1a1a1a" stroke-width="0.8"/>
<circle cx="226.5" cy="353" r="1.5" fill="#fff" stroke="#444" stroke-width="0.8"/>
<circle cx="255.5" cy="336.5" r="1.4" fill="#2f6677" stroke="#0f2533" stroke-width="0.8"/>
<circle cx="255.5" cy="351.5" r="1.4" fill="#2f6677" stroke="#0f2533" stroke-width="0.8"/>
<circle cx="255.5" cy="362" r="1.4" fill="#2f6677" stroke="#0f2533" stroke-width="0.8"/>
<circle cx="255.5" cy="366" r="1.4" fill="#2f6677" stroke="#0f2533" stroke-width="0.8"/>
<circle cx="255.5" cy="370" r="1.4" fill="#2f6677" stroke="#0f2533" stroke-width="0.8"/>
<circle cx="255.5" cy="299.3" r="1.6" fill="#7dbdec" stroke="#163a52" stroke-width="0.9"/>
<circle cx="283.5" cy="296.8" r="1.6" fill="#1a2238" stroke="#0a0f1c" stroke-width="0.8"/>
<circle cx="283.5" cy="322.2" r="1.6" fill="#1a2238" stroke="#0a0f1c" stroke-width="0.8"/>
<circle cx="283.5" cy="350" r="1.6" fill="#1a2238" stroke="#0a0f1c" stroke-width="0.8"/>
<circle cx="283.5" cy="355" r="1.6" fill="#1a2238" stroke="#0a0f1c" stroke-width="0.8"/>
<circle cx="283.5" cy="360" r="1.6" fill="#1a2238" stroke="#0a0f1c" stroke-width="0.8"/>
<circle cx="283.5" cy="366" r="1.6" fill="#1a2238" stroke="#0a0f1c" stroke-width="0.8"/>
<circle cx="283.5" cy="368.75" r="1.6" fill="#1a2238" stroke="#0a0f1c" stroke-width="0.8"/>
<rect x="215.79999999999998" y="366.2" width="21.6" height="3.3000000000000114" fill="#c2ce99" stroke="none" stroke-width="1" fill-opacity="0.87"/>
<line x1="215.79999999999998" y1="368.2" x2="237.4" y2="368.2" stroke="#3c4a24" stroke-width="1.5"/>
<rect x="244.1" y="353.75" width="21.8" height="12.5" fill="#6fb7ea" stroke="none" stroke-width="1" fill-opacity="0.85"/>
<line x1="244.1" y1="363" x2="265.9" y2="363" stroke="#1d4c68" stroke-width="1.5"/>
<rect x="272.8" y="350.5" width="22" height="15.0" fill="#3f5d9c" stroke="none" stroke-width="1" fill-opacity="0.9"/>
<line x1="272.8" y1="359.25" x2="294.8" y2="359.25" stroke="#15244a" stroke-width="1.5"/>
<path d="M226.5 296.5 V294.5 H255.5 V296.5" fill="none" stroke="#2a2a2a" stroke-width="1"/>
<circle cx="239.40" cy="290.80" r="1.05" fill="#2a2a2a"/>
<circle cx="242.60" cy="290.80" r="1.05" fill="#2a2a2a"/>
<path d="M226.5 286.5 V284.5 H283.5 V286.5" fill="none" stroke="#2a2a2a" stroke-width="1"/>
<circle cx="253.40" cy="280.80" r="1.05" fill="#2a2a2a"/>
<circle cx="256.60" cy="280.80" r="1.05" fill="#2a2a2a"/>
<text x="367.7" y="253.5" font-size="10" text-anchor="middle" fill="#222" textLength="81.3" lengthAdjust="spacingAndGlyphs">GZMB+/CD137+</text>
<text x="348.6" y="265.5" font-size="10" text-anchor="middle" fill="#222" textLength="55.8" lengthAdjust="spacingAndGlyphs">/Ki-67+CD8</text>
<text x="376.4" y="267.6" font-size="7.5" text-anchor="start" fill="#222">M</text>
<text x="400.1" y="265.5" font-size="10" text-anchor="middle" fill="#222" textLength="29" lengthAdjust="spacingAndGlyphs">T cells</text>
<line x1="322.5" y1="272.5" x2="322.5" y2="378.3" stroke="#262626" stroke-width="1.3"/>
<line x1="319.4" y1="290.5" x2="322.4" y2="290.5" stroke="#262626" stroke-width="1.2"/>
<text x="315.4" y="293.7" font-size="8.1" text-anchor="end" fill="#1c1c1c">6</text>
<line x1="319.4" y1="317.5" x2="322.4" y2="317.5" stroke="#262626" stroke-width="1.2"/>
<text x="315.4" y="319.9" font-size="8.1" text-anchor="end" fill="#1c1c1c">4</text>
<line x1="319.4" y1="343.5" x2="322.4" y2="343.5" stroke="#262626" stroke-width="1.2"/>
<text x="315.4" y="346.2" font-size="8.1" text-anchor="end" fill="#1c1c1c">2</text>
<line x1="319.4" y1="369.5" x2="322.4" y2="369.5" stroke="#262626" stroke-width="1.2"/>
<text x="315.4" y="372.4" font-size="8.1" text-anchor="end" fill="#1c1c1c">0</text>
<line x1="322.4" y1="378.5" x2="413" y2="378.5" stroke="#262626" stroke-width="1.3"/>
<line x1="339.5" y1="378.3" x2="339.5" y2="381.3" stroke="#262626" stroke-width="1.2"/>
<text x="339.7" y="392.7" font-size="8.2" text-anchor="middle" fill="#1c1c1c" textLength="22.4" lengthAdjust="spacingAndGlyphs">Pre Tx</text>
<line x1="368.5" y1="378.3" x2="368.5" y2="381.3" stroke="#262626" stroke-width="1.2"/>
<text x="368" y="392.7" font-size="8.2" text-anchor="middle" fill="#1c1c1c" textLength="21.4" lengthAdjust="spacingAndGlyphs">Day 8</text>
<line x1="396.5" y1="378.3" x2="396.5" y2="381.3" stroke="#262626" stroke-width="1.2"/>
<text x="396.5" y="392.7" font-size="8.2" text-anchor="middle" fill="#1c1c1c" textLength="29.2" lengthAdjust="spacingAndGlyphs">Week 6</text>
<line x1="339.5" y1="316.5" x2="368.5" y2="305" stroke="#bdbdbd" stroke-width="0.7"/>
<line x1="339.5" y1="351" x2="368.5" y2="297.3" stroke="#d2b4b4" stroke-width="0.7"/>
<line x1="339.5" y1="356" x2="368.5" y2="307.2" stroke="#c2c2c8" stroke-width="0.7"/>
<line x1="339.5" y1="358.5" x2="368.5" y2="327.3" stroke="#bababa" stroke-width="0.7"/>
<line x1="339.5" y1="361" x2="368.5" y2="341.8" stroke="#d0bcbc" stroke-width="0.7"/>
<line x1="339.5" y1="363.5" x2="368.5" y2="353.8" stroke="#c4c4c4" stroke-width="0.7"/>
<line x1="339.5" y1="365" x2="368.5" y2="359.5" stroke="#bdbdbd" stroke-width="0.7"/>
<line x1="339.5" y1="369" x2="368.5" y2="363" stroke="#d2b4b4" stroke-width="0.7"/>
<line x1="339.5" y1="369.5" x2="368.5" y2="365.5" stroke="#c2c2c8" stroke-width="0.7"/>
<line x1="368.5" y1="297.3" x2="396.5" y2="356.8" stroke="#bdbdbd" stroke-width="0.7"/>
<line x1="368.5" y1="305" x2="396.5" y2="359.5" stroke="#d2b4b4" stroke-width="0.7"/>
<line x1="368.5" y1="307.2" x2="396.5" y2="366.5" stroke="#c2c2c8" stroke-width="0.7"/>
<line x1="368.5" y1="327.3" x2="396.5" y2="367.5" stroke="#bababa" stroke-width="0.7"/>
<line x1="368.5" y1="341.8" x2="396.5" y2="368.5" stroke="#d0bcbc" stroke-width="0.7"/>
<line x1="368.5" y1="353.8" x2="396.5" y2="369.5" stroke="#c4c4c4" stroke-width="0.7"/>
<line x1="368.5" y1="363" x2="396.5" y2="367.5" stroke="#bdbdbd" stroke-width="0.7"/>
<line x1="368.5" y1="369.5" x2="396.5" y2="366.5" stroke="#d2b4b4" stroke-width="0.7"/>
<line x1="339.5" y1="351" x2="339.5" y2="362" stroke="#2a2a2a" stroke-width="1"/>
<line x1="339.5" y1="367.2" x2="339.5" y2="369.5" stroke="#2a2a2a" stroke-width="1"/>
<line x1="368.5" y1="296" x2="368.5" y2="335" stroke="#2a2a2a" stroke-width="1"/>
<line x1="368.5" y1="362" x2="368.5" y2="369.5" stroke="#2a2a2a" stroke-width="1"/>
<line x1="396.5" y1="356.8" x2="396.5" y2="366.5" stroke="#2a2a2a" stroke-width="1"/>
<line x1="396.5" y1="368.8" x2="396.5" y2="369.5" stroke="#2a2a2a" stroke-width="1"/>
<circle cx="339.5" cy="351" r="1.4" fill="#8c9470" stroke="#1a1a1a" stroke-width="0.8"/>
<circle cx="339.5" cy="356" r="1.4" fill="#8c9470" stroke="#1a1a1a" stroke-width="0.8"/>
<circle cx="339.5" cy="358.5" r="1.4" fill="#8c9470" stroke="#1a1a1a" stroke-width="0.8"/>
<circle cx="339.5" cy="361" r="1.4" fill="#8c9470" stroke="#1a1a1a" stroke-width="0.8"/>
<circle cx="339.5" cy="363.5" r="1.4" fill="#8c9470" stroke="#1a1a1a" stroke-width="0.8"/>
<circle cx="339.5" cy="365" r="1.4" fill="#8c9470" stroke="#1a1a1a" stroke-width="0.8"/>
<circle cx="339.5" cy="369" r="1.4" fill="#8c9470" stroke="#1a1a1a" stroke-width="0.8"/>
<circle cx="339.5" cy="369.5" r="1.4" fill="#8c9470" stroke="#1a1a1a" stroke-width="0.8"/>
<circle cx="339.5" cy="316.5" r="1.5" fill="#fff" stroke="#444" stroke-width="0.8"/>
<circle cx="368.5" cy="297.3" r="1.4" fill="#2f6677" stroke="#0f2533" stroke-width="0.8"/>
<circle cx="368.5" cy="305" r="1.4" fill="#2f6677" stroke="#0f2533" stroke-width="0.8"/>
<circle cx="368.5" cy="307.2" r="1.4" fill="#2f6677" stroke="#0f2533" stroke-width="0.8"/>
<circle cx="368.5" cy="327.3" r="1.4" fill="#2f6677" stroke="#0f2533" stroke-width="0.8"/>
<circle cx="368.5" cy="341.8" r="1.4" fill="#2f6677" stroke="#0f2533" stroke-width="0.8"/>
<circle cx="368.5" cy="353.8" r="1.4" fill="#2f6677" stroke="#0f2533" stroke-width="0.8"/>
<circle cx="368.5" cy="359.5" r="1.4" fill="#2f6677" stroke="#0f2533" stroke-width="0.8"/>
<circle cx="368.5" cy="363" r="1.4" fill="#2f6677" stroke="#0f2533" stroke-width="0.8"/>
<circle cx="368.5" cy="365.5" r="1.4" fill="#2f6677" stroke="#0f2533" stroke-width="0.8"/>
<circle cx="368.5" cy="367.5" r="1.4" fill="#2f6677" stroke="#0f2533" stroke-width="0.8"/>
<circle cx="368.5" cy="369.5" r="1.4" fill="#2f6677" stroke="#0f2533" stroke-width="0.8"/>
<circle cx="396.5" cy="356.8" r="1.4" fill="#1a2238" stroke="#0a0f1c" stroke-width="0.8"/>
<circle cx="396.5" cy="359.5" r="1.4" fill="#1a2238" stroke="#0a0f1c" stroke-width="0.8"/>
<circle cx="396.5" cy="366.5" r="1.4" fill="#1a2238" stroke="#0a0f1c" stroke-width="0.8"/>
<circle cx="396.5" cy="367.5" r="1.4" fill="#1a2238" stroke="#0a0f1c" stroke-width="0.8"/>
<circle cx="396.5" cy="368.5" r="1.4" fill="#1a2238" stroke="#0a0f1c" stroke-width="0.8"/>
<circle cx="396.5" cy="369.5" r="1.4" fill="#1a2238" stroke="#0a0f1c" stroke-width="0.8"/>
<rect x="328.2" y="362" width="23.0" height="5.199999999999989" fill="#c2ce99" stroke="none" stroke-width="1" fill-opacity="0.87"/>
<line x1="328.2" y1="364.7" x2="351.2" y2="364.7" stroke="#3c4a24" stroke-width="1.5"/>
<rect x="356.5" y="335" width="23.0" height="27" fill="#6fb7ea" stroke="none" stroke-width="1" fill-opacity="0.85"/>
<line x1="356.5" y1="353.8" x2="379.5" y2="353.8" stroke="#1d4c68" stroke-width="1.5"/>
<rect x="385.2" y="366.5" width="22.6" height="2.3000000000000114" fill="#2c4a86" stroke="none" stroke-width="1" fill-opacity="0.9"/>
<line x1="385.2" y1="367.7" x2="407.8" y2="367.7" stroke="#15244a" stroke-width="1.5"/>
<path d="M339.5 295.5 V293.5 H368.5 V295.5" fill="none" stroke="#2a2a2a" stroke-width="1"/>
<circle cx="350.80" cy="289.80" r="1.05" fill="#2a2a2a"/>
<circle cx="354.00" cy="289.80" r="1.05" fill="#2a2a2a"/>
<circle cx="357.20" cy="289.80" r="1.05" fill="#2a2a2a"/>
<text x="7.8" y="421.7" font-size="12" text-anchor="start" font-weight="bold" fill="#111">D</text>
<text x="96.75" y="433.1" font-size="10.3" text-anchor="middle" fill="#222" textLength="99.6" lengthAdjust="spacingAndGlyphs"><tspan font-style="italic">IFNG</tspan> in NK/NKT cells</text>
<line x1="44.5" y1="440" x2="44.5" y2="543.2" stroke="#262626" stroke-width="1.3"/>
<line x1="41.6" y1="444.5" x2="44.6" y2="444.5" stroke="#262626" stroke-width="1.2"/>
<text x="37.6" y="447.4" font-size="8.1" text-anchor="end" fill="#1c1c1c">100</text>
<line x1="41.6" y1="471.5" x2="44.6" y2="471.5" stroke="#262626" stroke-width="1.2"/>
<text x="37.6" y="473.9" font-size="8.1" text-anchor="end" fill="#1c1c1c">75</text>
<line x1="41.6" y1="497.5" x2="44.6" y2="497.5" stroke="#262626" stroke-width="1.2"/>
<text x="37.6" y="500.29999999999995" font-size="8.1" text-anchor="end" fill="#1c1c1c">50</text>
<line x1="41.6" y1="523.5" x2="44.6" y2="523.5" stroke="#262626" stroke-width="1.2"/>
<text x="37.6" y="525.9" font-size="8.1" text-anchor="end" fill="#1c1c1c">25</text>
<line x1="44.6" y1="543.5" x2="150.8" y2="543.5" stroke="#262626" stroke-width="1.3"/>
<line x1="76.5" y1="543.2" x2="76.5" y2="546.2" stroke="#262626" stroke-width="1.2"/>
<text x="76.3" y="558.2" font-size="8.2" text-anchor="middle" fill="#1c1c1c">2</text>
<line x1="110.5" y1="543.2" x2="110.5" y2="546.2" stroke="#262626" stroke-width="1.2"/>
<text x="110.9" y="558.2" font-size="8.2" text-anchor="middle" fill="#1c1c1c">4</text>
<line x1="145.5" y1="543.2" x2="145.5" y2="546.2" stroke="#262626" stroke-width="1.2"/>
<text x="145.3" y="558.2" font-size="8.2" text-anchor="middle" fill="#1c1c1c">6</text>
<text x="95.65" y="572.2" font-size="10" text-anchor="middle" fill="#1c1c1c" textLength="99.5" lengthAdjust="spacingAndGlyphs">Fold change day 8, injected site</text>
<text x="15.8" y="488.2" font-size="10" text-anchor="middle" fill="#262626" transform="rotate(-90 15.8 488.2)" textLength="88.5" lengthAdjust="spacingAndGlyphs">Distant tumor reduction (%)</text>
<line x1="52.8" y1="511.3" x2="139.7" y2="451.2" stroke="#747474" stroke-width="1.1"/>
<circle cx="140.2" cy="452.6" r="2.45" fill="#dfe8c8" stroke="#1e1e1e" stroke-width="1.05"/>
<circle cx="70.4" cy="471.5" r="2.45" fill="#8e8642" stroke="#1e1e1e" stroke-width="1.05"/>
<circle cx="92.9" cy="471.5" r="2.45" fill="#356b42" stroke="#1e1e1e" stroke-width="1.05"/>
<circle cx="59" cy="488.2" r="2.45" fill="#b0306a" stroke="#1e1e1e" stroke-width="1.05"/>
<circle cx="65.4" cy="500.7" r="2.45" fill="#b81525" stroke="#1e1e1e" stroke-width="1.05"/>
<circle cx="73.7" cy="502.1" r="2.45" fill="#d0704a" stroke="#1e1e1e" stroke-width="1.05"/>
<circle cx="84.6" cy="503" r="2.45" fill="#eef0e6" stroke="#1e1e1e" stroke-width="1.05"/>
<circle cx="67.3" cy="512.4" r="2.45" fill="#4a3078" stroke="#1e1e1e" stroke-width="1.05"/>
<circle cx="52.8" cy="523" r="2.45" fill="#eadbe0" stroke="#1e1e1e" stroke-width="1.05"/>
<circle cx="57" cy="525.2" r="2.45" fill="#e6d2da" stroke="#1e1e1e" stroke-width="1.05"/>
<text x="146.6" y="527.6" font-size="8.6" text-anchor="end" fill="#222"><tspan font-style="italic">R</tspan> = 0.68</text>
<text x="146.6" y="537.1" font-size="8.6" text-anchor="end" fill="#222"><tspan font-style="italic">P</tspan> = .03</text>
<text x="166" y="421.6" font-size="12" text-anchor="start" font-weight="bold" fill="#111">F</text>
<text x="246.15" y="433.5" font-size="10" text-anchor="middle" fill="#222" textLength="77.1" lengthAdjust="spacingAndGlyphs">CD4 Proliferation</text>
<line x1="208.5" y1="440" x2="208.5" y2="543.4" stroke="#262626" stroke-width="1.3"/>
<line x1="205.8" y1="453.5" x2="208.8" y2="453.5" stroke="#262626" stroke-width="1.2"/>
<text x="201.8" y="456.79999999999995" font-size="8.1" text-anchor="end" fill="#1c1c1c">0.00</text>
<line x1="205.8" y1="476.5" x2="208.8" y2="476.5" stroke="#262626" stroke-width="1.2"/>
<text x="201.8" y="478.9" font-size="8.1" text-anchor="end" fill="#1c1c1c">−0.05</text>
<line x1="205.8" y1="497.5" x2="208.8" y2="497.5" stroke="#262626" stroke-width="1.2"/>
<text x="201.8" y="500.7" font-size="8.1" text-anchor="end" fill="#1c1c1c">−0.10</text>
<line x1="205.8" y1="520.5" x2="208.8" y2="520.5" stroke="#262626" stroke-width="1.2"/>
<text x="201.8" y="522.9" font-size="8.1" text-anchor="end" fill="#1c1c1c">−0.15</text>
<line x1="205.8" y1="542.5" x2="208.8" y2="542.5" stroke="#262626" stroke-width="1.2"/>
<text x="201.8" y="545.1" font-size="8.1" text-anchor="end" fill="#1c1c1c">−0.20</text>
<line x1="208.8" y1="543.5" x2="280.8" y2="543.5" stroke="#262626" stroke-width="1.3"/>
<line x1="229.5" y1="543.4" x2="229.5" y2="546.4" stroke="#262626" stroke-width="1.2"/>
<text x="229.8" y="558.2" font-size="8.2" text-anchor="middle" fill="#1c1c1c" textLength="22.4" lengthAdjust="spacingAndGlyphs">Pre Tx</text>
<line x1="262.5" y1="543.4" x2="262.5" y2="546.4" stroke="#262626" stroke-width="1.2"/>
<text x="262.8" y="558.2" font-size="8.2" text-anchor="middle" fill="#1c1c1c" textLength="21.4" lengthAdjust="spacingAndGlyphs">Day 8</text>
<text x="174.9" y="491.5" font-size="10" text-anchor="middle" fill="#262626" transform="rotate(-90 174.9 491.5)" textLength="88" lengthAdjust="spacingAndGlyphs">Geneset score, injected site</text>
<line x1="229.5" y1="465.9" x2="262.5" y2="457.5" stroke="#bdbdbd" stroke-width="0.7"/>
<line x1="229.5" y1="496" x2="262.5" y2="455.8" stroke="#d2b4b4" stroke-width="0.7"/>
<line x1="229.5" y1="502" x2="262.5" y2="459.4" stroke="#c2c2c8" stroke-width="0.7"/>
<line x1="229.5" y1="508" x2="262.5" y2="476" stroke="#bababa" stroke-width="0.7"/>
<line x1="229.5" y1="511" x2="262.5" y2="494.8" stroke="#d0bcbc" stroke-width="0.7"/>
<line x1="229.5" y1="522.4" x2="262.5" y2="502" stroke="#c4c4c4" stroke-width="0.7"/>
<line x1="229.5" y1="526" x2="262.5" y2="506" stroke="#bdbdbd" stroke-width="0.7"/>
<line x1="229.5" y1="530.8" x2="262.5" y2="515" stroke="#d2b4b4" stroke-width="0.7"/>
<line x1="229.5" y1="533.3" x2="262.5" y2="517" stroke="#c2c2c8" stroke-width="0.7"/>
<line x1="229.5" y1="536.1" x2="262.5" y2="522.4" stroke="#bababa" stroke-width="0.7"/>
<line x1="229.5" y1="465.9" x2="229.5" y2="502" stroke="#2a2a2a" stroke-width="1"/>
<line x1="229.5" y1="526.5" x2="229.5" y2="536.1" stroke="#2a2a2a" stroke-width="1"/>
<line x1="262.5" y1="455.8" x2="262.5" y2="479.1" stroke="#2a2a2a" stroke-width="1"/>
<line x1="262.5" y1="514.7" x2="262.5" y2="521.2" stroke="#2a2a2a" stroke-width="1"/>
<circle cx="229.5" cy="465.9" r="1.4" fill="#8c9470" stroke="#1a1a1a" stroke-width="0.8"/>
<circle cx="229.5" cy="496" r="1.4" fill="#8c9470" stroke="#1a1a1a" stroke-width="0.8"/>
<circle cx="229.5" cy="502" r="1.4" fill="#8c9470" stroke="#1a1a1a" stroke-width="0.8"/>
<circle cx="229.5" cy="508" r="1.4" fill="#8c9470" stroke="#1a1a1a" stroke-width="0.8"/>
<circle cx="229.5" cy="511" r="1.4" fill="#8c9470" stroke="#1a1a1a" stroke-width="0.8"/>
<circle cx="229.5" cy="522.4" r="1.4" fill="#8c9470" stroke="#1a1a1a" stroke-width="0.8"/>
<circle cx="229.5" cy="526" r="1.4" fill="#8c9470" stroke="#1a1a1a" stroke-width="0.8"/>
<circle cx="229.5" cy="530.8" r="1.4" fill="#8c9470" stroke="#1a1a1a" stroke-width="0.8"/>
<circle cx="229.5" cy="533.3" r="1.4" fill="#8c9470" stroke="#1a1a1a" stroke-width="0.8"/>
<circle cx="229.5" cy="536.1" r="1.4" fill="#8c9470" stroke="#1a1a1a" stroke-width="0.8"/>
<circle cx="262.5" cy="455.8" r="1.4" fill="#2f6677" stroke="#0f2533" stroke-width="0.8"/>
<circle cx="262.5" cy="457.5" r="1.4" fill="#2f6677" stroke="#0f2533" stroke-width="0.8"/>
<circle cx="262.5" cy="459.4" r="1.4" fill="#2f6677" stroke="#0f2533" stroke-width="0.8"/>
<circle cx="262.5" cy="476" r="1.4" fill="#2f6677" stroke="#0f2533" stroke-width="0.8"/>
<circle cx="262.5" cy="494.8" r="1.4" fill="#2f6677" stroke="#0f2533" stroke-width="0.8"/>
<circle cx="262.5" cy="502" r="1.4" fill="#2f6677" stroke="#0f2533" stroke-width="0.8"/>
<circle cx="262.5" cy="506" r="1.4" fill="#2f6677" stroke="#0f2533" stroke-width="0.8"/>
<circle cx="262.5" cy="515" r="1.4" fill="#2f6677" stroke="#0f2533" stroke-width="0.8"/>
<circle cx="262.5" cy="517" r="1.4" fill="#2f6677" stroke="#0f2533" stroke-width="0.8"/>
<circle cx="262.5" cy="519" r="1.4" fill="#2f6677" stroke="#0f2533" stroke-width="0.8"/>
<circle cx="262.5" cy="522.4" r="1.4" fill="#2f6677" stroke="#0f2533" stroke-width="0.8"/>
<rect x="216.4" y="502" width="26.8" height="24.5" fill="#c2ce99" stroke="none" stroke-width="1" fill-opacity="0.87"/>
<line x1="216.4" y1="517.1" x2="243.20000000000002" y2="517.1" stroke="#3c4a24" stroke-width="1.5"/>
<rect x="249.8" y="479.1" width="26" height="35.60000000000002" fill="#6fb7ea" stroke="none" stroke-width="1" fill-opacity="0.85"/>
<line x1="249.8" y1="498.4" x2="275.8" y2="498.4" stroke="#1d4c68" stroke-width="1.5"/>
<path d="M229.5 453.5 V451.5 H262.5 V453.5" fill="none" stroke="#2a2a2a" stroke-width="1"/>
<circle cx="246.00" cy="447.80" r="1.05" fill="#2a2a2a"/>
<text x="357.35" y="433.5" font-size="10" text-anchor="middle" fill="#222" textLength="63.3" lengthAdjust="spacingAndGlyphs">TCR Signaling</text>
<line x1="318.5" y1="440" x2="318.5" y2="543.8" stroke="#262626" stroke-width="1.3"/>
<line x1="315.8" y1="467.5" x2="318.8" y2="467.5" stroke="#262626" stroke-width="1.2"/>
<text x="311.8" y="470.09999999999997" font-size="8.1" text-anchor="end" fill="#1c1c1c">0.20</text>
<line x1="315.8" y1="495.5" x2="318.8" y2="495.5" stroke="#262626" stroke-width="1.2"/>
<text x="311.8" y="498.2" font-size="8.1" text-anchor="end" fill="#1c1c1c">0.15</text>
<line x1="315.8" y1="524.5" x2="318.8" y2="524.5" stroke="#262626" stroke-width="1.2"/>
<text x="311.8" y="526.9" font-size="8.1" text-anchor="end" fill="#1c1c1c">0.10</text>
<line x1="318.8" y1="543.5" x2="397.8" y2="543.5" stroke="#262626" stroke-width="1.3"/>
<line x1="339.5" y1="543.8" x2="339.5" y2="546.8" stroke="#262626" stroke-width="1.2"/>
<text x="339.4" y="558.2" font-size="8.2" text-anchor="middle" fill="#1c1c1c" textLength="22.4" lengthAdjust="spacingAndGlyphs">Pre Tx</text>
<line x1="375.5" y1="543.8" x2="375.5" y2="546.8" stroke="#262626" stroke-width="1.2"/>
<text x="375.3" y="558.2" font-size="8.2" text-anchor="middle" fill="#1c1c1c" textLength="21.4" lengthAdjust="spacingAndGlyphs">Day 8</text>
<line x1="339.5" y1="474" x2="375.5" y2="455.6" stroke="#bdbdbd" stroke-width="0.7"/>
<line x1="339.5" y1="481.9" x2="375.5" y2="457.8" stroke="#d2b4b4" stroke-width="0.7"/>
<line x1="339.5" y1="483.75" x2="375.5" y2="460" stroke="#c2c2c8" stroke-width="0.7"/>
<line x1="339.5" y1="497" x2="375.5" y2="475" stroke="#bababa" stroke-width="0.7"/>
<line x1="339.5" y1="517" x2="375.5" y2="481.25" stroke="#d0bcbc" stroke-width="0.7"/>
<line x1="339.5" y1="519.7" x2="375.5" y2="492.2" stroke="#c4c4c4" stroke-width="0.7"/>
<line x1="339.5" y1="535" x2="375.5" y2="498.4" stroke="#bdbdbd" stroke-width="0.7"/>
<line x1="339.5" y1="483.75" x2="375.5" y2="501.6" stroke="#d2b4b4" stroke-width="0.7"/>
<line x1="339.5" y1="489" x2="375.5" y2="504.7" stroke="#c2c2c8" stroke-width="0.7"/>
<line x1="339.5" y1="481.9" x2="375.5" y2="498.4" stroke="#bababa" stroke-width="0.7"/>
<line x1="339.5" y1="520.3" x2="375.5" y2="457.8" stroke="#d0bcbc" stroke-width="0.7"/>
<line x1="339.5" y1="474" x2="339.5" y2="486.6" stroke="#2a2a2a" stroke-width="1"/>
<line x1="339.5" y1="501.6" x2="339.5" y2="520.3" stroke="#2a2a2a" stroke-width="1"/>
<line x1="375.5" y1="455.6" x2="375.5" y2="465.6" stroke="#2a2a2a" stroke-width="1"/>
<line x1="375.5" y1="493.1" x2="375.5" y2="504.7" stroke="#2a2a2a" stroke-width="1"/>
<circle cx="339.5" cy="474" r="1.4" fill="#8c9470" stroke="#1a1a1a" stroke-width="0.8"/>
<circle cx="339.5" cy="481.9" r="1.4" fill="#8c9470" stroke="#1a1a1a" stroke-width="0.8"/>
<circle cx="339.5" cy="483.75" r="1.4" fill="#8c9470" stroke="#1a1a1a" stroke-width="0.8"/>
<circle cx="339.5" cy="497" r="1.4" fill="#8c9470" stroke="#1a1a1a" stroke-width="0.8"/>
<circle cx="339.5" cy="517" r="1.4" fill="#8c9470" stroke="#1a1a1a" stroke-width="0.8"/>
<circle cx="339.5" cy="519.7" r="1.4" fill="#8c9470" stroke="#1a1a1a" stroke-width="0.8"/>
<circle cx="339.5" cy="535" r="1.5" fill="#fff" stroke="#444" stroke-width="0.8"/>
<circle cx="375.5" cy="455.6" r="1.4" fill="#2f6677" stroke="#0f2533" stroke-width="0.8"/>
<circle cx="375.5" cy="457.8" r="1.4" fill="#2f6677" stroke="#0f2533" stroke-width="0.8"/>
<circle cx="375.5" cy="460" r="1.4" fill="#2f6677" stroke="#0f2533" stroke-width="0.8"/>
<circle cx="375.5" cy="475" r="1.4" fill="#2f6677" stroke="#0f2533" stroke-width="0.8"/>
<circle cx="375.5" cy="481.25" r="1.4" fill="#2f6677" stroke="#0f2533" stroke-width="0.8"/>
<circle cx="375.5" cy="492.2" r="1.4" fill="#2f6677" stroke="#0f2533" stroke-width="0.8"/>
<circle cx="375.5" cy="498.4" r="1.4" fill="#2f6677" stroke="#0f2533" stroke-width="0.8"/>
<circle cx="375.5" cy="501.6" r="1.4" fill="#2f6677" stroke="#0f2533" stroke-width="0.8"/>
<circle cx="375.5" cy="504.7" r="1.4" fill="#2f6677" stroke="#0f2533" stroke-width="0.8"/>
<rect x="324.9" y="486.6" width="29.0" height="15.0" fill="#c2ce99" stroke="none" stroke-width="1" fill-opacity="0.87"/>
<line x1="324.9" y1="489.7" x2="353.9" y2="489.7" stroke="#3c4a24" stroke-width="1.5"/>
<rect x="361.2" y="465.6" width="28.2" height="27.5" fill="#6fb7ea" stroke="none" stroke-width="1" fill-opacity="0.85"/>
<line x1="361.2" y1="484.4" x2="389.40000000000003" y2="484.4" stroke="#1d4c68" stroke-width="1.5"/>
<path d="M339.5 453.5 V451.5 H375.5 V453.5" fill="none" stroke="#2a2a2a" stroke-width="1"/>
<circle cx="355.90" cy="447.80" r="1.05" fill="#2a2a2a"/>
<circle cx="359.10" cy="447.80" r="1.05" fill="#2a2a2a"/>
<text x="472.4" y="433.3" font-size="10" text-anchor="middle" fill="#222" textLength="81.2" lengthAdjust="spacingAndGlyphs">T Cell Chemotaxis</text>
<line x1="435.5" y1="440" x2="435.5" y2="543.8" stroke="#262626" stroke-width="1.3"/>
<line x1="432.3" y1="458.5" x2="435.3" y2="458.5" stroke="#262626" stroke-width="1.2"/>
<text x="428.3" y="461.29999999999995" font-size="8.1" text-anchor="end" fill="#1c1c1c">0.04</text>
<line x1="432.3" y1="481.5" x2="435.3" y2="481.5" stroke="#262626" stroke-width="1.2"/>
<text x="428.3" y="484.79999999999995" font-size="8.1" text-anchor="end" fill="#1c1c1c">0.02</text>
<line x1="432.3" y1="505.5" x2="435.3" y2="505.5" stroke="#262626" stroke-width="1.2"/>
<text x="428.3" y="508.2" font-size="8.1" text-anchor="end" fill="#1c1c1c">0.00</text>
<line x1="432.3" y1="528.5" x2="435.3" y2="528.5" stroke="#262626" stroke-width="1.2"/>
<text x="428.3" y="531.0" font-size="8.1" text-anchor="end" fill="#1c1c1c">−0.02</text>
<line x1="435.3" y1="543.5" x2="507.8" y2="543.5" stroke="#262626" stroke-width="1.3"/>
<line x1="455.5" y1="543.8" x2="455.5" y2="546.8" stroke="#262626" stroke-width="1.2"/>
<text x="455.6" y="558.2" font-size="8.2" text-anchor="middle" fill="#1c1c1c" textLength="22.4" lengthAdjust="spacingAndGlyphs">Pre Tx</text>
<line x1="489.5" y1="543.8" x2="489.5" y2="546.8" stroke="#262626" stroke-width="1.2"/>
<text x="489.4" y="558.2" font-size="8.2" text-anchor="middle" fill="#1c1c1c" textLength="29.2" lengthAdjust="spacingAndGlyphs">Week 6</text>
<line x1="455.5" y1="471.9" x2="489.5" y2="457.2" stroke="#bdbdbd" stroke-width="0.7"/>
<line x1="455.5" y1="476.6" x2="489.5" y2="461.6" stroke="#d2b4b4" stroke-width="0.7"/>
<line x1="455.5" y1="481.9" x2="489.5" y2="481.9" stroke="#c2c2c8" stroke-width="0.7"/>
<line x1="455.5" y1="483.75" x2="489.5" y2="470.3" stroke="#bababa" stroke-width="0.7"/>
<line x1="455.5" y1="489" x2="489.5" y2="472.5" stroke="#d0bcbc" stroke-width="0.7"/>
<line x1="455.5" y1="497.5" x2="489.5" y2="490.6" stroke="#c4c4c4" stroke-width="0.7"/>
<line x1="455.5" y1="514" x2="489.5" y2="493.1" stroke="#bdbdbd" stroke-width="0.7"/>
<line x1="455.5" y1="517.2" x2="489.5" y2="499.4" stroke="#d2b4b4" stroke-width="0.7"/>
<line x1="455.5" y1="522.5" x2="489.5" y2="490.6" stroke="#c2c2c8" stroke-width="0.7"/>
<line x1="455.5" y1="535" x2="489.5" y2="524.4" stroke="#bababa" stroke-width="0.7"/>
<line x1="455.5" y1="471.9" x2="455.5" y2="485.5" stroke="#2a2a2a" stroke-width="1"/>
<line x1="455.5" y1="512.8" x2="455.5" y2="535" stroke="#2a2a2a" stroke-width="1"/>
<line x1="489.5" y1="455.6" x2="489.5" y2="466.25" stroke="#2a2a2a" stroke-width="1"/>
<line x1="489.5" y1="489" x2="489.5" y2="499.4" stroke="#2a2a2a" stroke-width="1"/>
<circle cx="455.5" cy="476.6" r="1.4" fill="#8c9470" stroke="#1a1a1a" stroke-width="0.8"/>
<circle cx="455.5" cy="481.9" r="1.4" fill="#8c9470" stroke="#1a1a1a" stroke-width="0.8"/>
<circle cx="455.5" cy="483.75" r="1.4" fill="#8c9470" stroke="#1a1a1a" stroke-width="0.8"/>
<circle cx="455.5" cy="489" r="1.4" fill="#8c9470" stroke="#1a1a1a" stroke-width="0.8"/>
<circle cx="455.5" cy="497.5" r="1.4" fill="#8c9470" stroke="#1a1a1a" stroke-width="0.8"/>
<circle cx="455.5" cy="514" r="1.4" fill="#8c9470" stroke="#1a1a1a" stroke-width="0.8"/>
<circle cx="455.5" cy="517.2" r="1.4" fill="#8c9470" stroke="#1a1a1a" stroke-width="0.8"/>
<circle cx="455.5" cy="522.5" r="1.4" fill="#8c9470" stroke="#1a1a1a" stroke-width="0.8"/>
<circle cx="455.5" cy="535" r="1.5" fill="#fff" stroke="#444" stroke-width="0.8"/>
<circle cx="455.5" cy="471.9" r="1.5" fill="#f4f4f4" stroke="#444" stroke-width="0.8"/>
<circle cx="489.5" cy="455.6" r="1.4" fill="#1a2238" stroke="#0a0f1c" stroke-width="0.8"/>
<circle cx="489.5" cy="457.2" r="1.4" fill="#1a2238" stroke="#0a0f1c" stroke-width="0.8"/>
<circle cx="489.5" cy="461.6" r="1.4" fill="#1a2238" stroke="#0a0f1c" stroke-width="0.8"/>
<circle cx="489.5" cy="470.3" r="1.4" fill="#1a2238" stroke="#0a0f1c" stroke-width="0.8"/>
<circle cx="489.5" cy="472.5" r="1.4" fill="#1a2238" stroke="#0a0f1c" stroke-width="0.8"/>
<circle cx="489.5" cy="481.9" r="1.4" fill="#1a2238" stroke="#0a0f1c" stroke-width="0.8"/>
<circle cx="489.5" cy="490.6" r="1.4" fill="#1a2238" stroke="#0a0f1c" stroke-width="0.8"/>
<circle cx="489.5" cy="493.1" r="1.4" fill="#1a2238" stroke="#0a0f1c" stroke-width="0.8"/>
<circle cx="489.5" cy="499.4" r="1.4" fill="#1a2238" stroke="#0a0f1c" stroke-width="0.8"/>
<circle cx="489.5" cy="524.4" r="1.4" fill="#1a2238" stroke="#0a0f1c" stroke-width="0.8"/>
<rect x="442.0" y="485.5" width="27.2" height="27.299999999999955" fill="#c4d09b" stroke="none" stroke-width="1" fill-opacity="0.87"/>
<line x1="442.0" y1="497.8" x2="469.20000000000005" y2="497.8" stroke="#3c4a24" stroke-width="1.5"/>
<rect x="476.09999999999997" y="466.25" width="26.6" height="22.75" fill="#4767a8" stroke="none" stroke-width="1" fill-opacity="0.9"/>
<line x1="476.09999999999997" y1="480.6" x2="502.7" y2="480.6" stroke="#15244a" stroke-width="1.5"/>
<path d="M455.5 453.5 V451.5 H489.5 V453.5" fill="none" stroke="#2a2a2a" stroke-width="1"/>
<circle cx="469.30" cy="447.80" r="1.05" fill="#2a2a2a"/>
<circle cx="472.50" cy="447.80" r="1.05" fill="#2a2a2a"/>
<circle cx="475.70" cy="447.80" r="1.05" fill="#2a2a2a"/>
<line x1="0" y1="0.5" x2="520" y2="0.5" stroke="#4a4a4a" stroke-width="1.1"/>
<line x1="0.5" y1="0" x2="0.5" y2="582" stroke="#555" stroke-width="1.1"/>
<line x1="519.5" y1="0" x2="519.5" y2="582" stroke="#333" stroke-width="1.1"/>
<line x1="0" y1="581.5" x2="520" y2="581.5" stroke="#222" stroke-width="1.1"/>
</svg></body></html>
